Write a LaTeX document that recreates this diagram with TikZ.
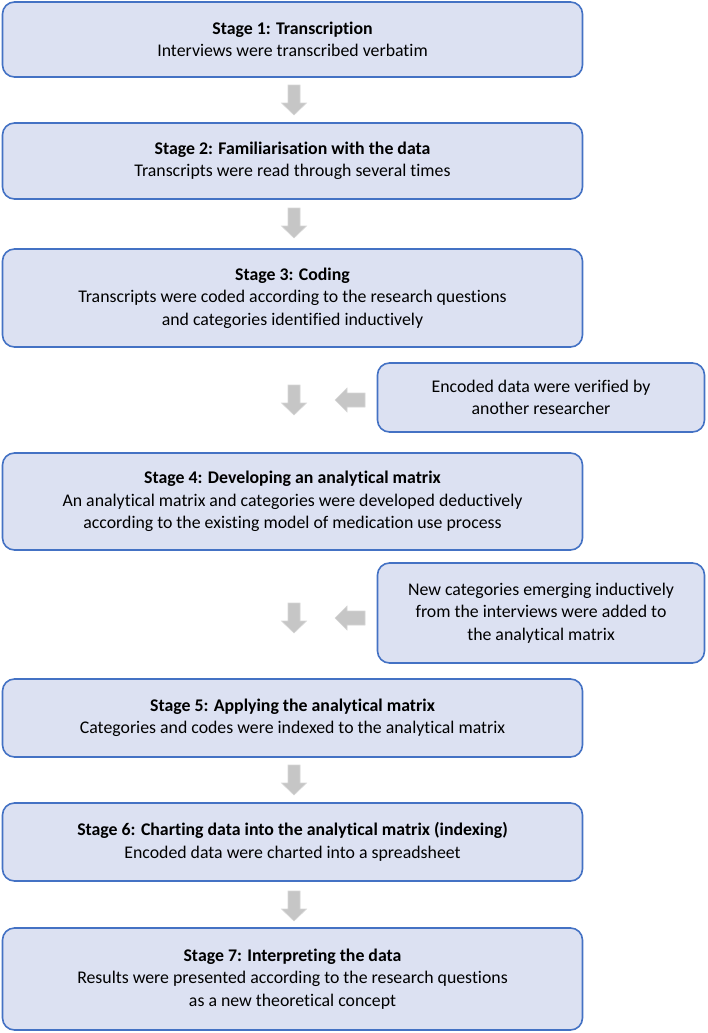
\documentclass[tikz,border=0pt]{standalone}
\usepackage{fontspec}
\setmainfont[Ligatures=NoCommon]{Carlito}
\definecolor{boxblue}{HTML}{4472C4}
\definecolor{boxfill}{HTML}{DCE1F2}
\definecolor{arrfill}{HTML}{C6C6C6}
\definecolor{arrline}{HTML}{D6D6D6}
\begin{document}
\begin{tikzpicture}[x=1pt,y=-1pt,
  box/.style={draw=boxblue, fill=boxfill, line width=1.6pt, rounded corners=12pt,
    align=center, inner sep=0pt, outer sep=0pt, font=\fontsize{17.8}{22.5}\selectfont},
  mainbox/.style={box, minimum width=580pt},
  sidebox/.style={box, minimum width=327pt},
  arrowstyle/.style={fill=arrfill, draw=arrline, line width=0.6pt},
  darr/.pic={\filldraw[arrowstyle] (-6,-15) -- (6,-15) -- (6,3) -- (12.5,3) -- (0,15) -- (-12.5,3) -- (-6,3) -- cycle;},
  larr/.pic={\filldraw[arrowstyle] (-15,0) -- (-3,-12) -- (-3,-7) -- (15,-7) -- (15,7) -- (-3,7) -- (-3,12) -- cycle;}
]
\path[use as bounding box] (0,0) rectangle (707,1033);

\node[mainbox, minimum height=75pt] (s1) at (292.5,39.5)
  {\textbf{Stage 1: Transcription}\\Interviews were transcribed verbatim};
\node[mainbox, minimum height=76pt] (s2) at (292.5,161)
  {\textbf{Stage 2: Familiarisation with the data}\\Transcripts were read through several times};
\node[mainbox, minimum height=98pt] (s3) at (292.5,298)
  {\textbf{Stage 3: Coding}\\Transcripts were coded according to the research questions\\and categories identified inductively};
\node[sidebox, minimum height=69pt] (v1) at (541,397.5)
  {Encoded data were verified by\\another researcher};
\node[mainbox, minimum height=97pt] (s4) at (292.5,501.5)
  {\textbf{Stage 4: Developing an analytical matrix}\\An analytical matrix and categories were developed deductively\\according to the existing model of medication use process};
\node[sidebox, minimum height=100pt] (v2) at (541,613)
  {New categories emerging inductively\\from the interviews were added to\\the analytical matrix};
\node[mainbox, minimum height=78pt] (s5) at (292.5,718)
  {\textbf{Stage 5: Applying the analytical matrix}\\Categories and codes were indexed to the analytical matrix};
\node[mainbox, minimum height=78pt] (s6) at (292.5,842)
  {\textbf{Stage 6: Charting data into the analytical matrix (indexing)}\\Encoded data were charted into a spreadsheet};
\node[mainbox, minimum height=102pt] (s7) at (292.5,979)
  {\textbf{Stage 7: Interpreting the data}\\Results were presented according to the research questions\\as a new theoretical concept};

\pic at (294,100) {darr};
\pic at (294,223) {darr};
\pic at (294,400) {darr};
\pic at (294,618) {darr};
\pic at (294,780) {darr};
\pic at (294,906) {darr};
\pic at (350,400) {larr};
\pic at (350,618) {larr};
\end{tikzpicture}
\end{document}
